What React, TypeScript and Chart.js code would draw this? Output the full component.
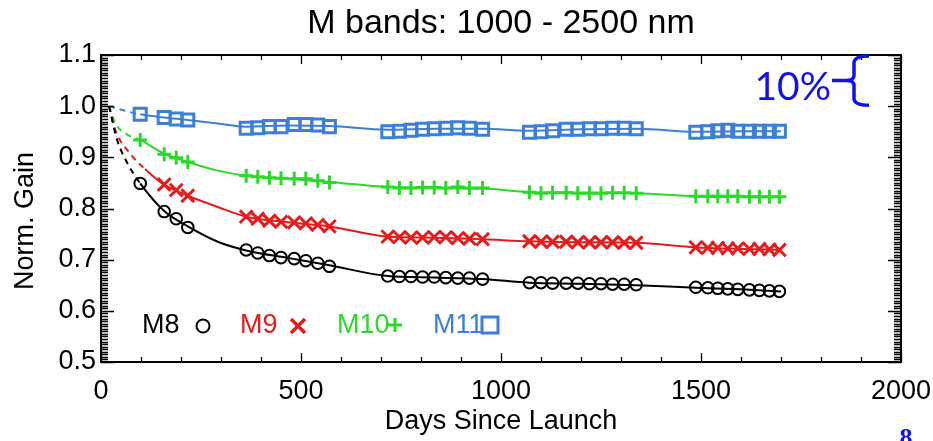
import React, { useEffect, useRef } from 'react';
import { Chart, registerables } from 'chart.js';

Chart.register(...registerables);

// ---------- text ----------
const TITLE = 'M bands: 1000 - 2500 nm';
const X_TITLE = 'Days Since Launch';
const Y_TITLE = 'Norm. Gain';
const ANNOTATION = '10%';
const PAGE_NUMBER = '8';
const SERIES_NAMES = ['M8', 'M9', 'M10', 'M11'];
const SERIES_COLORS = ['#000000', '#e31c1c', '#2bd92b', '#3b7fd8'];

// ---------- axes ----------
const X_MIN = 0;
const X_MAX = 2000;
const X_STEP = 500;
const X_MINOR_STEP = 100;
const Y_MIN = 0.5;
const Y_MAX = 1.1;
const Y_STEP = 0.1;
const Y_MINOR_STEP = 0.005;

// ---------- measurement days ----------
const DAYS_EARLY = [98, 158, 188, 217];
const DAYS_A = [363, 392, 421, 450, 483, 512, 542, 571];
const DAYS_B = [717, 746, 775, 804, 833, 862, 892, 921, 954];
const DAYS_C = [1071, 1100, 1129, 1163, 1192, 1221, 1250, 1279, 1308, 1338];
const DAYS_D = [1487, 1517, 1542, 1567, 1592, 1621, 1646, 1671, 1696];

const M8_DAYS = [...DAYS_EARLY, ...DAYS_A, ...DAYS_B, ...DAYS_C, ...DAYS_D];
const M9_DAYS = [...DAYS_EARLY.slice(1), ...DAYS_A, ...DAYS_B, ...DAYS_C, ...DAYS_D];
const M10_DAYS = [...DAYS_EARLY, ...DAYS_A, ...DAYS_B, ...DAYS_C, ...DAYS_D];
const M11_DAYS = [...DAYS_EARLY, ...DAYS_A, ...DAYS_B, ...DAYS_C, ...DAYS_D];

// ---------- measured gains ----------
const M8_GAIN = [
  0.849, 0.794, 0.78, 0.763,
  0.719, 0.713, 0.708, 0.704, 0.702, 0.698, 0.693, 0.687,
  0.668, 0.667, 0.667, 0.666, 0.666, 0.665, 0.664, 0.664, 0.662,
  0.655, 0.655, 0.654, 0.654, 0.654, 0.653, 0.653, 0.652, 0.652, 0.651,
  0.646, 0.645, 0.644, 0.643, 0.642, 0.641, 0.64, 0.639, 0.638,
];
const M9_GAIN = [
  0.847, 0.836, 0.825,
  0.784, 0.78, 0.776, 0.774, 0.773, 0.771, 0.768, 0.765,
  0.745, 0.744, 0.743, 0.743, 0.744, 0.744, 0.742, 0.741, 0.74,
  0.736, 0.735, 0.735, 0.735, 0.734, 0.734, 0.734, 0.734, 0.733, 0.733,
  0.724, 0.723, 0.723, 0.722, 0.722, 0.721, 0.721, 0.72, 0.719,
];
const M10_GAIN = [
  0.934, 0.906, 0.899, 0.891,
  0.864, 0.862, 0.86, 0.859, 0.858, 0.858, 0.854, 0.851,
  0.842, 0.84, 0.84, 0.841, 0.841, 0.84, 0.842, 0.84, 0.84,
  0.832, 0.83, 0.831, 0.831, 0.83, 0.83, 0.83, 0.831, 0.831, 0.83,
  0.824, 0.824, 0.824, 0.824, 0.824, 0.823, 0.823, 0.823, 0.823,
];
const M11_GAIN = [
  0.984, 0.978, 0.975, 0.973,
  0.957, 0.958, 0.96, 0.96, 0.964, 0.964, 0.963, 0.96,
  0.95, 0.951, 0.953, 0.955, 0.956, 0.957, 0.958, 0.957, 0.955,
  0.949, 0.95, 0.952, 0.955, 0.955, 0.956, 0.956, 0.957, 0.957, 0.956,
  0.949, 0.95, 0.952, 0.953, 0.951, 0.951, 0.951, 0.951, 0.951,
];

// ---------- fitted trend curves (dashed before first measurement) ----------
const M8_FIT_DAYS = [20, 40, 65, 98, 158, 217, 292, 363, 470, 571, 717, 835, 954, 1071, 1200, 1338, 1487, 1600, 1700];
const M8_FIT = [1.0, 0.935, 0.89, 0.849, 0.795, 0.765, 0.735, 0.718, 0.703, 0.689, 0.668, 0.665, 0.662, 0.655, 0.653, 0.65, 0.645, 0.642, 0.638];
const M9_FIT_DAYS = [20, 35, 75, 110, 158, 188, 217, 292, 363, 470, 571, 717, 835, 954, 1071, 1200, 1338, 1487, 1600, 1700];
const M9_FIT = [1.0, 0.955, 0.905, 0.877, 0.846, 0.835, 0.825, 0.803, 0.784, 0.773, 0.765, 0.745, 0.743, 0.74, 0.736, 0.734, 0.733, 0.724, 0.721, 0.719];
const M10_FIT_DAYS = [20, 37, 65, 98, 158, 217, 292, 363, 470, 571, 717, 835, 954, 1071, 1200, 1338, 1487, 1600, 1700];
const M10_FIT = [1.0, 0.965, 0.945, 0.934, 0.907, 0.891, 0.874, 0.864, 0.858, 0.852, 0.842, 0.84, 0.839, 0.832, 0.831, 0.83, 0.824, 0.823, 0.823];
const M11_FIT_DAYS = [20, 60, 98, 158, 217, 292, 363, 470, 571, 717, 835, 954, 1071, 1200, 1338, 1487, 1600, 1700];
const M11_FIT = [1.0, 0.991, 0.984, 0.978, 0.973, 0.966, 0.96, 0.962, 0.961, 0.954, 0.956, 0.956, 0.952, 0.955, 0.956, 0.95, 0.951, 0.951];
const DASH_END = [98, 110, 98, 98];

const FONT = "'Liberation Sans', Arial, Helvetica, sans-serif";

const toPoints = (xs: number[], ys: number[]) => xs.map((x, i) => ({ x, y: ys[i] }));

const framePlugin = {
  id: 'frame',
  afterDraw(chart: any) {
    const { ctx, chartArea: a, scales } = chart;
    const xs = scales.x;
    const ys = scales.y;
    ctx.save();
    ctx.strokeStyle = '#000';
    ctx.lineWidth = 2;
    ctx.strokeRect(a.left, a.top, a.right - a.left, a.bottom - a.top);
    ctx.lineWidth = 1.3;
    ctx.beginPath();
    const nY = Math.round((Y_MAX - Y_MIN) / Y_MINOR_STEP);
    const perMajorY = Math.round(Y_STEP / Y_MINOR_STEP);
    for (let i = 0; i <= nY; i++) {
      const v = Y_MIN + i * Y_MINOR_STEP;
      const y = Math.round(ys.getPixelForValue(v)) + 0.5;
      const len = i % perMajorY === 0 ? 13 : 7;
      ctx.moveTo(a.left, y);
      ctx.lineTo(a.left + len, y);
      ctx.moveTo(a.right, y);
      ctx.lineTo(a.right - len, y);
    }
    const nX = Math.round((X_MAX - X_MIN) / X_MINOR_STEP);
    const perMajorX = Math.round(X_STEP / X_MINOR_STEP);
    for (let i = 0; i <= nX; i++) {
      const v = X_MIN + i * X_MINOR_STEP;
      const x = Math.round(xs.getPixelForValue(v)) + 0.5;
      const len = i % perMajorX === 0 ? 9 : 5;
      ctx.moveTo(x, a.bottom);
      ctx.lineTo(x, a.bottom - len);
      ctx.moveTo(x, a.top);
      ctx.lineTo(x, a.top + len);
    }
    ctx.stroke();

    // title
    ctx.fillStyle = '#000';
    ctx.font = `34px ${FONT}`;
    ctx.textAlign = 'center';
    ctx.textBaseline = 'middle';
    ctx.fillText(TITLE, (a.left + a.right) / 2, 24);

    // y-axis title
    ctx.save();
    ctx.translate(26, 221);
    ctx.rotate(-Math.PI / 2);
    ctx.font = `27px ${FONT}`;
    ctx.fillText(Y_TITLE, 0, 0);
    ctx.restore();

    // legend inside the plot
    const ly = a.bottom - 36;
    ctx.font = `27px ${FONT}`;
    ctx.textAlign = 'left';
    ctx.textBaseline = 'middle';
    const legendX = [a.left + 41, a.left + 139, a.left + 236, a.left + 332];
    const markerX = [a.left + 102, a.left + 197, a.left + 294, a.left + 389];
    SERIES_NAMES.forEach((name, i) => {
      ctx.fillStyle = SERIES_COLORS[i];
      ctx.fillText(name, legendX[i], ly);
      ctx.strokeStyle = SERIES_COLORS[i];
      const mx = markerX[i];
      ctx.beginPath();
      if (i === 0) {
        ctx.lineWidth = 2;
        ctx.arc(mx, ly, 6.5, 0, Math.PI * 2);
      } else if (i === 1) {
        ctx.lineWidth = 3.5;
        ctx.moveTo(mx - 7, ly - 7);
        ctx.lineTo(mx + 7, ly + 7);
        ctx.moveTo(mx + 7, ly - 7);
        ctx.lineTo(mx - 7, ly + 7);
      } else if (i === 2) {
        ctx.lineWidth = 3;
        ctx.moveTo(mx - 7, ly - 1);
        ctx.lineTo(mx + 7, ly - 1);
        ctx.moveTo(mx, ly - 8);
        ctx.lineTo(mx, ly + 6);
      } else {
        ctx.lineWidth = 3;
        ctx.rect(mx - 8, ly - 9, 16, 16);
      }
      ctx.stroke();
    });

    // 10% annotation with brace spanning 1.0 .. 1.1
    const yTop = ys.getPixelForValue(1.1);
    const yBot = ys.getPixelForValue(1.0);
    const yMid = (yTop + yBot) / 2;
    const bx = a.right - 47;
    ctx.strokeStyle = '#1010f0';
    ctx.fillStyle = '#1010f0';
    ctx.lineWidth = 3.5;
    ctx.beginPath();
    ctx.moveTo(bx + 15, yTop + 1);
    ctx.quadraticCurveTo(bx, yTop + 1, bx, yTop + 8);
    ctx.lineTo(bx, yMid - 5);
    ctx.quadraticCurveTo(bx, yMid, bx - 8, yMid);
    ctx.moveTo(bx - 8, yMid);
    ctx.quadraticCurveTo(bx, yMid, bx, yMid + 5);
    ctx.lineTo(bx, yBot - 8);
    ctx.quadraticCurveTo(bx, yBot - 1, bx + 15, yBot - 1);
    ctx.moveTo(bx - 8, yMid);
    ctx.lineTo(bx - 22, yMid);
    ctx.stroke();
    ctx.font = `39px Lato, ${FONT}`;
    ctx.textAlign = 'right';
    ctx.textBaseline = 'middle';
    ctx.fillText(ANNOTATION, bx - 23, yMid + 7);

    // page number (cut at the bottom edge)
    ctx.font = `bold 26px 'Liberation Serif', serif`;
    ctx.textAlign = 'center';
    ctx.textBaseline = 'alphabetic';
    ctx.fillText(PAGE_NUMBER, a.right + 5, chart.height + 5);
    ctx.restore();
  },
};

export default function App() {
  const ref = useRef<HTMLCanvasElement | null>(null);

  useEffect(() => {
    document.body.style.margin = '0';
    document.body.style.background = '#fff';
    const canvas = ref.current;
    if (!canvas) return;

    const fits = [
      [M8_FIT_DAYS, M8_FIT],
      [M9_FIT_DAYS, M9_FIT],
      [M10_FIT_DAYS, M10_FIT],
      [M11_FIT_DAYS, M11_FIT],
    ];
    const marks = [
      [M8_DAYS, M8_GAIN],
      [M9_DAYS, M9_GAIN],
      [M10_DAYS, M10_GAIN],
      [M11_DAYS, M11_GAIN],
    ];
    const styles = [
      { pointStyle: 'circle', radius: 5.8, width: 2 },
      { pointStyle: 'crossRot', radius: 9, width: 3 },
      { pointStyle: 'cross', radius: 7, width: 3 },
      { pointStyle: 'rect', radius: 8.5, width: 3 },
    ];

    const datasets: any[] = [];
    fits.forEach(([d, v], i) => {
      const dashEnd = DASH_END[i];
      datasets.push({
        label: SERIES_NAMES[i] + ' fit',
        data: toPoints(d as number[], v as number[]),
        borderColor: SERIES_COLORS[i],
        borderWidth: 2,
        pointRadius: 0,
        fill: false,
        cubicInterpolationMode: 'monotone',
        order: 1,
        segment: {
          borderDash: (c: any) => (c.p1.parsed.x <= dashEnd ? [6, 5] : undefined),
        },
      });
    });
    marks.forEach(([d, v], i) => {
      datasets.push({
        label: SERIES_NAMES[i],
        data: toPoints(d as number[], v as number[]),
        showLine: false,
        borderColor: SERIES_COLORS[i],
        backgroundColor: 'rgba(0,0,0,0)',
        pointStyle: styles[i].pointStyle,
        pointRadius: styles[i].radius,
        pointBorderWidth: styles[i].width,
        pointBorderColor: SERIES_COLORS[i],
        pointBackgroundColor: 'rgba(0,0,0,0)',
        order: 0,
      });
    });

    const chart = new Chart(canvas, {
      type: 'line',
      data: { datasets },
      options: {
        animation: false,
        responsive: false,
        devicePixelRatio: 1,
        events: [],
        layout: { padding: { top: 55, right: 32, left: 0, bottom: 0 } },
        plugins: {
          legend: { display: false },
          tooltip: { enabled: false },
          title: { display: false },
        },
        scales: {
          x: {
            type: 'linear',
            min: X_MIN,
            max: X_MAX,
            grid: { display: false, drawTicks: false },
            border: { display: false },
            ticks: {
              stepSize: X_STEP,
              color: '#000',
              padding: 13,
              maxRotation: 0,
              font: { family: FONT, size: 27 },
              callback: (v: any) => String(v),
            },
            title: {
              display: true,
              text: X_TITLE,
              color: '#000',
              font: { family: FONT, size: 27 },
              padding: { top: 0, bottom: 3 },
            },
            afterFit: (s: any) => {
              s.height = 79;
              s.paddingLeft = 0;
              s.paddingRight = 0;
            },
          },
          y: {
            type: 'linear',
            min: Y_MIN,
            max: Y_MAX,
            grid: { display: false, drawTicks: false },
            border: { display: false },
            ticks: {
              stepSize: Y_STEP,
              color: '#000',
              padding: 5,
              font: { family: FONT, size: 27 },
              callback: (v: any) => Number(v).toFixed(1),
            },
            title: { display: false },
            afterFit: (s: any) => {
              s.width = 101;
              s.paddingTop = 0;
              s.paddingBottom = 0;
            },
          },
        },
      },
      plugins: [framePlugin],
    } as any);

    return () => chart.destroy();
  }, []);

  return (
    <div style={{ width: 933, height: 441, position: 'relative', background: '#fff', overflow: 'hidden' }}>
      <canvas ref={ref} width={933} height={441} />
    </div>
  );
}
